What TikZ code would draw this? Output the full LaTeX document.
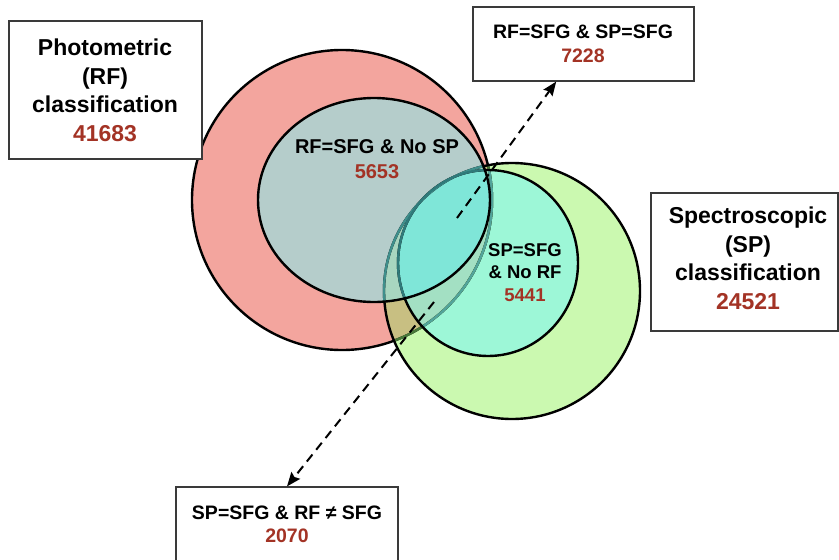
\documentclass[tikz,border=0pt]{standalone}
\usepackage{fontspec}
\setmainfont{Liberation Sans}
\usetikzlibrary{arrows.meta}
\definecolor{salmon}{HTML}{F3A59E}
\definecolor{lgreen}{HTML}{CBF9B0}
\definecolor{olive}{HTML}{C8BF82}
\definecolor{mint}{HTML}{9DF7D7}
\definecolor{mintred}{HTML}{A3E0C3}
\definecolor{greyteal}{HTML}{B5CDCB}
\definecolor{egreen}{HTML}{A8D6C0}
\definecolor{ecyan}{HTML}{7FE6D8}
\definecolor{tealline}{HTML}{3F8F8C}
\definecolor{cline}{HTML}{2F7A7A}
\definecolor{dgreenline}{HTML}{4A7A3A}
\definecolor{numred}{HTML}{A33325}
\definecolor{boxgray}{HTML}{3A3A3A}
\begin{document}
\begin{tikzpicture}[x=1pt,y=-1pt,
  bigtxt/.style={font=\bfseries\fontsize{23}{28.5}\selectfont, align=center, inner sep=0pt},
  smalltxt/.style={font=\bfseries\fontsize{19.5}{24.5}\selectfont, align=center, inner sep=0pt},
  innertxt/.style={font=\bfseries\fontsize{18.5}{22.5}\selectfont, align=center, inner sep=0pt},
  frame/.style={draw=boxgray, line width=1.2pt, fill=white, inner sep=0pt},
  ring/.style={line width=2.4pt},
  dasharrow/.style={draw=black, line width=2pt, dash pattern=on 9pt off 6pt,
    -{Stealth[length=14pt,width=11pt,inset=2pt]}}]
\useasboundingbox (0,0) rectangle (839,560);
\clip (0,0) rectangle (839,560);
\def\pathR{(342,200) circle (150pt)}
\def\pathG{(512,291) circle (128pt)}
\def\pathE{(374,200) ellipse (116pt and 102pt)}
\def\pathC{(488,263) ellipse (90pt and 93pt)}
% fills
\fill[salmon] \pathR;
\fill[lgreen] \pathG;
\begin{scope}\clip \pathR; \fill[olive] \pathG; \end{scope}
\fill[mint] \pathC;
\begin{scope}\clip \pathR; \fill[mintred] \pathC; \end{scope}
\fill[greyteal] \pathE;
\begin{scope}\clip \pathE; \fill[egreen] \pathG; \end{scope}
\begin{scope}\clip \pathE; \fill[ecyan] \pathC; \end{scope}
% outlines
\draw[ring,black] \pathR;
\begin{scope}\clip \pathG; \draw[ring,dgreenline] \pathR; \end{scope}
\begin{scope}\clip \pathC; \draw[ring,tealline!80!mint] \pathR; \end{scope}
\draw[ring,black] \pathG;
\draw[ring,black] \pathC;
\begin{scope}\clip \pathE; \draw[ring,tealline] \pathG; \draw[ring,cline] \pathC; \end{scope}
\draw[ring,black] \pathE;
% inner labels
\node[smalltxt, font=\bfseries\fontsize{20}{25}\selectfont] (rfnosp) at (377,159) {RF=SFG \& No SP\\\textcolor{numred}{5653}};
\node[innertxt] (spnorf) at (525,272.5) {SP=SFG\\\& No RF\\\textcolor{numred}{5441}};
% boxes
\node[frame, minimum width=193pt, minimum height=138pt] (rf) at (105.5,90) {};
\node[bigtxt] (rftxt) at (105,90.5) {Photometric\\(RF)\\classification\\\textcolor{numred}{41683}};
\node[frame, minimum width=221pt, minimum height=74pt] (rfsp) at (583.5,44) {};
\node[smalltxt] (rfsptxt) at (583,44) {RF=SFG \& SP=SFG\\\textcolor{numred}{7228}};
\node[frame, minimum width=187pt, minimum height=138pt] (sp) at (744.5,262) {};
\node[bigtxt] (sptxt) at (748,258.5) {Spectroscopic\\(SP)\\classification\\\textcolor{numred}{24521}};
\node[frame, minimum width=222pt, minimum height=93pt] (sfg) at (287,533.5) {};
\node[smalltxt, font=\bfseries\fontsize{19.5}{23.5}\selectfont] (sfgtxt) at (287,524.5) {SP=SFG \& RF ≠ SFG\\\textcolor{numred}{2070}};
% arrows
\coordinate (a1s) at (457,218);
\coordinate (a2s) at (434,302);
\draw[dasharrow] (a1s) -- (rfsp);
\draw[dasharrow] (a2s) -- (sfg.north);
\end{tikzpicture}
\end{document}
